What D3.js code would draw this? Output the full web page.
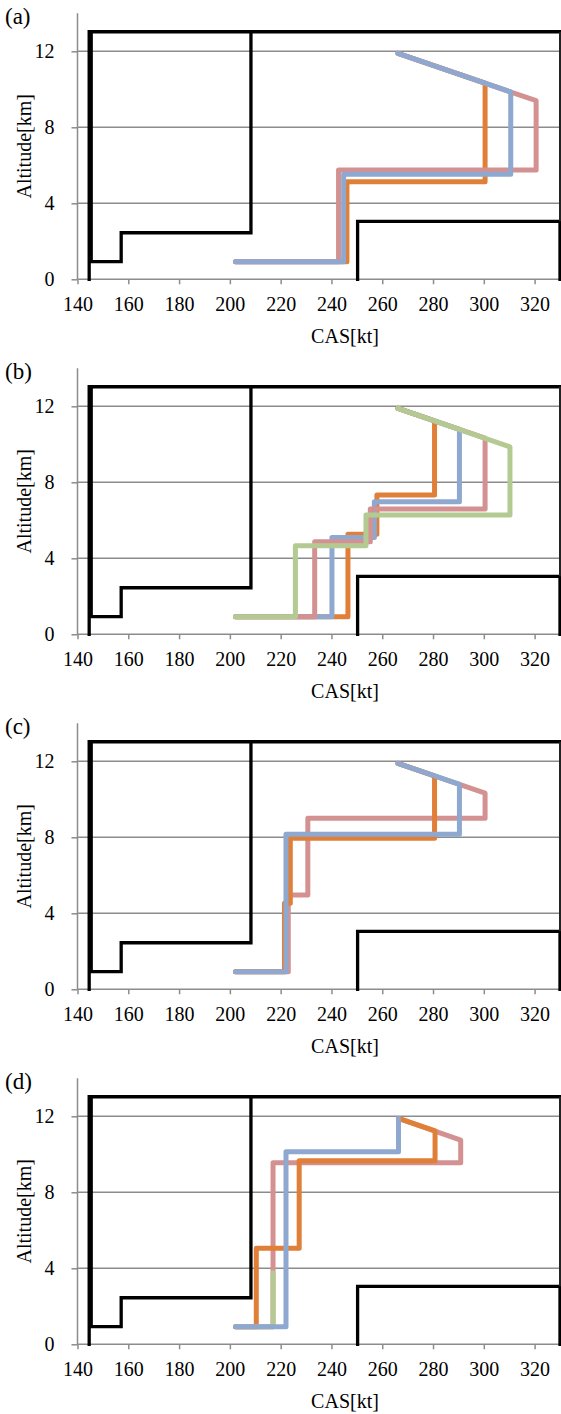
<!DOCTYPE html>
<html><head><meta charset="utf-8">
<script src="https://cdn.jsdelivr.net/npm/d3@7/dist/d3.min.js"></script>
<style>
html,body{margin:0;padding:0;background:#fff;}
svg{display:block;}
svg text{font-family:"Liberation Serif","Times New Roman","DejaVu Serif",serif !important;fill:#000;}
</style></head>
<body>
<script>
// ---------- data ----------
const xTicks = [140,160,180,200,220,240,260,280,300,320];
const yTicks = [0,4,8,12];
const xDomain = [140,330];
const yDomain = [0,14];
const panelLabels = ["(a)","(b)","(c)","(d)"];
const xTitle = "CAS[kt]";
const yTitle = "Altitude[km]";

// envelope (black) lines, [CAS kt, altitude km]
const stallCeiling = [[144.6,0],[144.6,13.03],[330,13.03]];
const minSpeedSteps = [[145.4,13.03],[145.4,0.93],[157.2,0.93],[157.2,2.45],[208.3,2.45],[208.3,13.03]];
const maxSpeedBox = [[250.3,0],[250.3,3.05],[330,3.05],[330,0]];
const rightEdge = [[330,3.05],[330,13.03]];

// panel (a)
const aOrange = [[202.2,0.93],[246.1,0.93],[246.1,5.14],[300.5,5.14],[300.5,10.32],[266.2,11.89]];
const aPink   = [[202.2,0.93],[242.8,0.93],[242.8,5.75],[320.6,5.75],[320.6,9.4],[266.2,11.89]];
const aBlue   = [[202.2,0.93],[244.8,0.93],[244.8,5.53],[310.6,5.53],[310.6,9.86],[266.2,11.89]];
// panel (b)
const bOrange = [[202.2,0.93],[246.5,0.93],[246.5,5.26],[257.9,5.26],[257.9,7.33],[280.6,7.33],[280.6,11.23],[266.2,11.89]];
const bBlue   = [[202.2,0.93],[240.2,0.93],[240.2,5.09],[256.9,5.09],[256.9,6.98],[290.4,6.98],[290.4,10.78],[266.2,11.89]];
const bPink   = [[202.2,0.93],[233.4,0.93],[233.4,4.87],[255.3,4.87],[255.3,6.59],[300.5,6.59],[300.5,10.32],[266.2,11.89]];
const bGreen  = [[202.2,0.93],[225.8,0.93],[225.8,4.66],[253.6,4.66],[253.6,6.28],[310.3,6.28],[310.3,9.87],[266.2,11.89]];
// panel (c)
const cPink   = [[202.2,0.93],[223.0,0.93],[223.0,4.96],[230.7,4.96],[230.7,9.0],[300.5,9.0],[300.5,10.32],[266.2,11.89]];
const cOrange = [[202.2,0.93],[221.5,0.93],[221.5,4.53],[223.8,4.53],[223.8,7.95],[280.6,7.95],[280.6,11.23],[266.2,11.89]];
const cBlue   = [[202.2,0.93],[222.1,0.93],[222.1,8.16],[290.4,8.16],[290.4,10.78],[266.2,11.89]];
// panel (d)
const dPink   = [[202.2,0.93],[217.0,0.93],[217.0,9.56],[290.9,9.56],[290.9,10.75],[266.4,11.89]];
const dOrange = [[202.2,0.93],[210.4,0.93],[210.4,5.05],[227.3,5.05],[227.3,9.66],[280.8,9.66],[280.8,11.23],[266.4,11.89]];
const dGreen  = [[202.2,0.93],[217.0,0.93],[217.0,3.77]];
const dBlue   = [[202.2,0.93],[222.1,0.93],[222.1,10.14],[266.4,10.14],[266.4,11.89]];

const colors = {orange:"#E07F38", pink:"#D49192", blue:"#8EA8D0", green:"#B3CB92"};

// draw order (bottom to top) per panel
const panelSeries = [
  [["orange",aOrange],["pink",aPink],["blue",aBlue]],
  [["orange",bOrange],["blue",bBlue],["pink",bPink],["green",bGreen]],
  [["pink",cPink],["orange",cOrange],["blue",cBlue]],
  [["pink",dPink],["orange",dOrange],["green",dGreen],["blue",dBlue]]
];

// ---------- layout ----------
const W = 561, H = 1414;
const left = 77.5, right = 560;
const panelStep = 355, firstZero = 279.3, plotH = 266;
const FONT = '"Liberation Serif","Times New Roman","DejaVu Serif",serif';

const svg = d3.select("body").append("svg").attr("width",W).attr("height",H)
  .style("font-family",FONT);
svg.append("rect").attr("width",W).attr("height",H).attr("fill","#fff");

const x = d3.scaleLinear().domain(xDomain).range([left,right]);

panelLabels.forEach((lab,i)=>{
  const zero = firstZero + panelStep*i;
  const y = d3.scaleLinear().domain(yDomain).range([zero, zero-plotH]);
  const g = svg.append("g");

  // gridlines
  g.selectAll("line.grid").data(yTicks.filter(t=>t>0)).join("line")
    .attr("x1",x(xDomain[0])).attr("x2",x(xDomain[1]))
    .attr("y1",d=>y(d)).attr("y2",d=>y(d))
    .attr("stroke","#8c8c8c").attr("stroke-width",1.5);

  // x axis
  const xa = g.append("g").attr("transform",`translate(0,${zero})`)
    .call(d3.axisBottom(x).tickValues(xTicks).tickSize(5).tickPadding(13).tickFormat(d3.format("d")));
  xa.attr("font-family",null).attr("font-size",null);
  xa.select(".domain").attr("stroke","#8c8c8c").attr("stroke-width",1.5).attr("d",`M${x(xDomain[0])},0H${x(xDomain[1])}`);
  xa.selectAll(".tick line").attr("stroke","#8c8c8c").attr("stroke-width",1.5);
  xa.selectAll(".tick text").style("font-size","20px").style("font-family",FONT).attr("fill","#000");

  // y axis
  const ya = g.append("g").attr("transform",`translate(${left},0)`)
    .call(d3.axisLeft(y).tickValues(yTicks).tickSize(6).tickPadding(17).tickFormat(d3.format("d")));
  ya.attr("font-family",null).attr("font-size",null);
  ya.select(".domain").attr("stroke","#8c8c8c").attr("stroke-width",1.5).attr("d",`M0,${y(0)}V${y(yDomain[1])}`);
  ya.selectAll(".tick line").attr("stroke","#8c8c8c").attr("stroke-width",1.5);
  ya.selectAll(".tick text").style("font-size","20px").style("font-family",FONT).attr("fill","#000");

  const line = d3.line().x(d=>x(d[0])).y(d=>y(d[1]));

  // black envelope
  [stallCeiling, minSpeedSteps, maxSpeedBox].forEach(p=>{
    g.append("path").attr("d",line(p)).attr("fill","none")
      .attr("stroke","#000").attr("stroke-width",3.3).attr("stroke-linejoin","miter").attr("stroke-linecap","square");
  });
  g.append("path").attr("d",line(rightEdge)).attr("fill","none")
    .attr("stroke","#222").attr("stroke-width",2);

  // colored profiles
  panelSeries[i].forEach(([c,data])=>{
    g.append("path").attr("d",line(data)).attr("fill","none")
      .attr("stroke",colors[c]).attr("stroke-width",5)
      .attr("stroke-linejoin","round").attr("stroke-linecap","round");
  });

  // labels
  g.append("text").attr("x",5).attr("y",zero-255).style("font-size","23px").style("font-family",FONT).text(lab);
  g.append("text").attr("x",345).attr("y",zero+64).attr("text-anchor","middle").style("font-size","20px").style("font-family",FONT).text(xTitle);
  g.append("text").attr("transform",`translate(31,${zero-133}) rotate(-90)`)
    .attr("text-anchor","middle").style("font-size","20px").style("font-family",FONT).text(yTitle);
});
</script>
</body></html>
